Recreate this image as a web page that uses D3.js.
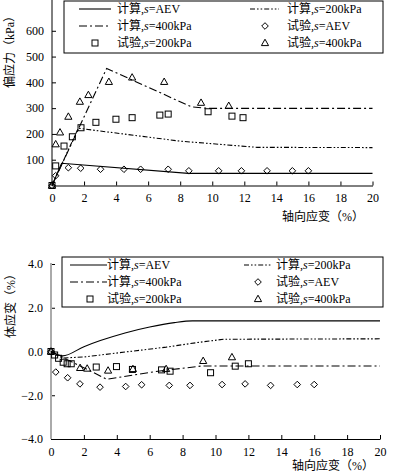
<!DOCTYPE html>
<html><head><meta charset="utf-8">
<script src="https://cdn.jsdelivr.net/npm/d3@7"></script>
<style>
html,body{margin:0;padding:0;background:#fff;}
text{font-family:"Liberation Serif","Noto Sans CJK SC",serif;font-size:12px;fill:#000;}
</style></head>
<body><svg id="c" width="393" height="473"></svg>
<script>
// ---------- data ----------
const xTickValues = [0,2,4,6,8,10,12,14,16,18,20];
const devTickValues = [100,200,300,400,500,600];
const volTickValues = [-4,-2,0,2,4];
const xLabel = "轴向应变（%）";
const devLabel = "偏应力（kPa）";
const volLabel = "体应变（%）";

// deviator stress (kPa) vs axial strain (%)
const devCalcAEV = [[0,0],[0.6,86],[8.5,47],[20,47]];
const devCalc200 = [[0,0],[1.64,222],[8,172],[12.8,148],[20,147]];
const devCalc400 = [[0,0],[3.41,454],[8.7,305],[9.8,299],[20,299]];
const devTestAEV = [[0,0],[0.23,38],[1.02,69],[1.79,67],[3.03,63],[4.49,63],[5.53,63],[7.25,63],[8.54,57],[10.4,57],[11.82,57],[13.42,57],[15.0,57],[16.0,57]];
const devTest200 = [[0,0],[0.23,76],[0.75,153],[1.27,189],[1.81,224],[2.74,245],[3.99,257],[5.0,263],[6.73,273],[7.25,277],[9.74,286],[11.23,269],[11.92,263]];
const devTest400 = [[0,0],[0.23,160],[0.5,206],[1.02,267],[1.74,325],[2.27,351],[3.55,402],[5.0,419],[7.0,402],[9.3,321],[11.03,309]];

// volumetric strain (%) vs axial strain (%)
const volCalcAEV = [[0,0],[0.7,-0.2],[2,0.22],[3,0.5],[4.5,0.85],[6,1.12],[7.5,1.32],[8.6,1.4],[20,1.4]];
const volCalc200 = [[0,0],[0.7,-0.3],[2,-0.25],[5,0.02],[7,0.2],[9,0.42],[10.5,0.56],[20,0.58]];
const volCalc400 = [[0,0],[3.4,-1.27],[6.5,-0.9],[9.2,-0.66],[20,-0.66]];
const volTestAEV = [[0,0],[0.29,-0.94],[1.01,-1.2],[1.76,-1.48],[2.98,-1.63],[4.54,-1.6],[5.51,-1.52],[7.19,-1.55],[8.45,-1.55],[10.4,-1.51],[11.8,-1.48],[13.35,-1.55],[14.97,-1.51],[16.0,-1.51]];
const volTest200 = [[0,0],[0.22,-0.16],[0.46,-0.31],[0.74,-0.49],[0.98,-0.56],[1.23,-0.56],[2.75,-0.71],[3.98,-0.69],[4.95,-0.82],[6.72,-0.84],[7.24,-0.9],[9.7,-0.97],[11.2,-0.67],[12.0,-0.56]];
const volTest400 = [[0,0],[1.77,-0.75],[2.2,-0.78],[3.47,-0.87],[4.98,-0.8],[7.0,-0.8],[9.25,-0.43],[11.0,-0.26]];

// ---------- drawing ----------
const svg = d3.select("#c");
svg.append("rect").attr("width",393).attr("height",473).attr("fill","#fff");

const dashAEV = null;
const dash400 = "8,3,2,3";
const dash200 = "5,2,1.6,2,1.6,2";

function marker(g, type, x, y){
  if(type==="square"){
    g.append("rect").attr("x",x-3).attr("y",y-3).attr("width",6).attr("height",6)
      .attr("fill","none").attr("stroke","#000").attr("stroke-width",1);
  } else if(type==="diamond"){
    g.append("path").attr("d",`M${x},${y-3.3}L${x+3.3},${y}L${x},${y+3.3}L${x-3.3},${y}Z`)
      .attr("fill","none").attr("stroke","#000").attr("stroke-width",1);
  } else {
    g.append("path").attr("d",`M${x},${y-3.8}L${x+3.6},${y+2.6}L${x-3.6},${y+2.6}Z`)
      .attr("fill","none").attr("stroke","#000").attr("stroke-width",1);
  }
}

function addLegendLabel(g, x, y, kind, sname){
  const t = g.append("text").attr("x",x).attr("y",y+4);
  t.append("tspan").text(kind+",");
  t.append("tspan").attr("font-style","italic").text("s");
  t.append("tspan").text("="+sname);
}

function panel(cfg){
  const g = svg.append("g");
  const x = d3.scaleLinear().domain([0,20]).range(cfg.xr);
  const y = d3.scaleLinear().domain(cfg.yd).range(cfg.yr);
  const x0 = cfg.xr[0];

  const xa = d3.axisBottom(x).tickValues(xTickValues).tickSizeInner(-4).tickSizeOuter(0).tickPadding(8).tickFormat(d3.format("d"));
  const gx = g.append("g").attr("transform",`translate(0,${cfg.xAxisY})`).call(xa);
  gx.select(".domain").attr("stroke","#000");
  gx.selectAll("text").style("font-family","Liberation Serif").style("font-size","12px").attr("dy","0.71em");

  const ya = d3.axisLeft(y).tickValues(cfg.yTicks).tickSizeInner(-4).tickSizeOuter(0).tickPadding(8).tickFormat(cfg.yFmt);
  const gy = g.append("g").attr("transform",`translate(${x0},0)`).call(ya);
  gy.select(".domain").remove();
  gy.selectAll("text").style("font-family","Liberation Serif").style("font-size","12px");
  g.append("line").attr("x1",x0).attr("x2",x0).attr("y1",cfg.yAxisTop).attr("y2",cfg.xAxisY)
    .attr("stroke",cfg.yAxisColor).attr("stroke-width",cfg.yAxisWidth);

  g.append("text").attr("x",cfg.xLabelPos[0]).attr("y",cfg.xLabelPos[1]).attr("text-anchor","middle").text(xLabel);
  g.append("text").attr("transform",`translate(${cfg.yLabelPos[0]},${cfg.yLabelPos[1]}) rotate(-90)`)
    .attr("text-anchor","middle").attr("dy","0.35em").text(cfg.yLabel);

  const line = d3.line().x(d=>x(d[0])).y(d=>y(d[1]));
  const lineC = d3.line().x(d=>x(d[0])).y(d=>y(d[1])).curve(d3.curveMonotoneX);
  const calcs = [[cfg.cAEV,dashAEV,cfg.smoothAEV],[cfg.c200,dash200,false],[cfg.c400,dash400,false]];
  calcs.forEach(([data,dash,smooth])=>{
    g.append("path").datum(data).attr("d",smooth?lineC:line).attr("fill","none")
      .attr("stroke","#000").attr("stroke-width",1.1).attr("stroke-dasharray",dash);
  });
  cfg.tAEV.forEach(d=>marker(g,"diamond",x(d[0]),y(d[1])));
  cfg.t200.forEach(d=>marker(g,"square",x(d[0]),y(d[1])));
  cfg.t400.forEach(d=>marker(g,"triangle",x(d[0]),y(d[1])));

  const L = cfg.leg;
  g.append("rect").attr("x",L.x).attr("y",L.y).attr("width",L.w).attr("height",L.h)
    .attr("fill","#fff").attr("stroke","#000").attr("stroke-width",1);
  const rows = L.rows;
  g.append("line").attr("x1",L.c1[0]).attr("x2",L.c1[1]).attr("y1",rows[0]).attr("y2",rows[0]).attr("stroke","#000").attr("stroke-width",1.1);
  addLegendLabel(g,L.t1,rows[0],"计算","AEV");
  g.append("line").attr("x1",L.c1[0]).attr("x2",L.c1[1]).attr("y1",rows[1]).attr("y2",rows[1]).attr("stroke","#000").attr("stroke-width",1.1).attr("stroke-dasharray",dash400);
  addLegendLabel(g,L.t1,rows[1],"计算","400kPa");
  marker(g,"square",L.m1,rows[2]);
  addLegendLabel(g,L.t1,rows[2],"试验","200kPa");
  g.append("line").attr("x1",L.c2[0]).attr("x2",L.c2[1]).attr("y1",rows[0]).attr("y2",rows[0]).attr("stroke","#000").attr("stroke-width",1.1).attr("stroke-dasharray",dash200);
  addLegendLabel(g,L.t2,rows[0],"计算","200kPa");
  marker(g,"diamond",L.m2,rows[1]);
  addLegendLabel(g,L.t2,rows[1],"试验","AEV");
  marker(g,"triangle",L.m2,rows[2]);
  addLegendLabel(g,L.t2,rows[2],"试验","400kPa");
}

panel({
  xr:[52,372.5], yd:[0,700], yr:[185.5,5], xAxisY:185.5, yAxisTop:0,
  yTicks:devTickValues, yFmt:d3.format("d"), yAxisColor:"#000", yAxisWidth:1,
  xLabelPos:[323,221], yLabelPos:[10,49], yLabel:devLabel,
  cAEV:devCalcAEV, c200:devCalc200, c400:devCalc400, smoothAEV:false,
  tAEV:devTestAEV, t200:devTest200, t400:devTest400,
  leg:{x:64,y:1,w:319,h:52,rows:[9,26,43],c1:[79,111],t1:117,m1:95,c2:[250,279],t2:287,m2:265}
});

panel({
  xr:[51,380], yd:[-4,4], yr:[439,264], xAxisY:439, yAxisTop:263,
  yTicks:volTickValues, yFmt:d=>(d<0?"−":"")+Math.abs(d).toFixed(1), yAxisColor:"#aaa", yAxisWidth:2,
  xLabelPos:[333,470], yLabelPos:[11,303], yLabel:volLabel,
  cAEV:volCalcAEV, c200:volCalc200, c400:volCalc400, smoothAEV:true,
  tAEV:volTestAEV, t200:volTest200, t400:volTest400,
  leg:{x:62,y:257,w:321,h:50,rows:[265,282,299],c1:[70,107],t1:107,m1:90,c2:[244,272],t2:276,m2:258}
});
</script></body></html>
